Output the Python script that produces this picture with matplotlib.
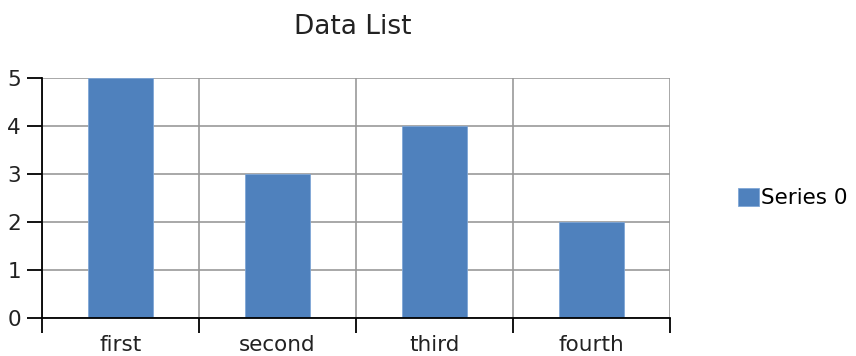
import matplotlib.pyplot as plt
import numpy as np

categories = ['first', 'second', 'third', 'fourth']
values = [5, 3, 4, 2]
series_name = 'Series 0'

fig = plt.figure(figsize=(8.56, 3.56), dpi=100)
ax = fig.add_axes([42 / 856, 38 / 356, 628 / 856, 240 / 356])

x = np.arange(len(categories))
ax.bar(x, values, width=0.41, color='#4f81bd', edgecolor='#7fa6d6',
       linewidth=0.6, label=series_name, zorder=3)

ax.set_xlim(-0.5, len(categories) - 0.5)
ax.set_ylim(0, 5)

# category boundaries carry the grid and tick marks, labels sit in between
ax.set_xticks(np.arange(-0.5, len(categories), 1.0))
ax.set_xticklabels([])
ax.set_xticks(x, minor=True)
ax.set_xticklabels(categories, minor=True, fontsize=15.5, color='#222222')
ax.tick_params(axis='x', which='minor', length=0, pad=12)
ax.tick_params(axis='x', which='major', length=11, width=1.3, direction='out')
ax.set_yticks(range(6))
ax.tick_params(axis='y', length=11, width=1.3, labelsize=15.5, labelcolor='#222222', pad=4)

ax.grid(True, which='major', color='#999999', linewidth=1.2, zorder=0)
for s in ['top', 'right']:
    ax.spines[s].set_visible(False)
for s in ['left', 'bottom']:
    ax.spines[s].set_linewidth(1.3)
    ax.spines[s].set_zorder(4)

fig.text(353 / 856, 1 - 27 / 356, 'Data List', fontsize=19, ha='center', va='center', color='#222222')

fig.legend(loc='center left', bbox_to_anchor=(729 / 856, 1 - 198 / 356), frameon=False,
           fontsize=15.5, handlelength=1.0, handleheight=0.95, handletextpad=0.1,
           borderaxespad=0)

plt.savefig('out.png', dpi=100)
